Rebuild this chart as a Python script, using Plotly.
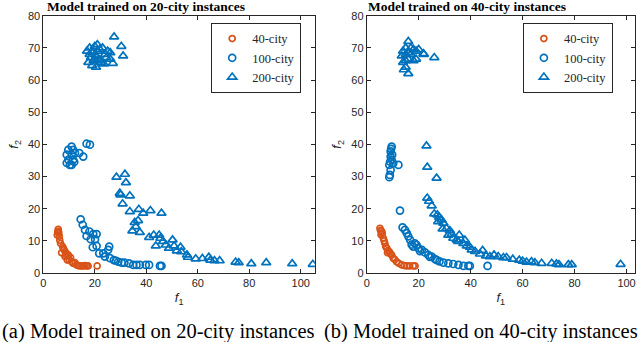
import plotly.graph_objects as go

# ---- data: model trained on 20-city instances (left) ----
a40_x = [5.8, 5.9, 5.4, 6.2, 6.0, 5.6, 6.7, 7.5, 8.0, 7.1, 8.8, 9.7, 8.4, 10.6, 9.3, 11.0,
         12.3, 12.9, 14.2, 15.5, 16.8, 17.4, 20.9, 7.8, 9.0, 10.0, 11.5, 13.5, 15.0, 16.2, 6.4, 8.5]
a40_y = [13.6, 13.0, 11.8, 11.4, 12.4, 12.8, 9.2, 8.2, 7.2, 6.3, 6.1, 5.6, 5.1, 4.8, 4.0, 3.5,
         3.2, 2.5, 2.2, 2.2, 2.2, 2.2, 2.2, 7.6, 5.4, 4.3, 3.0, 2.3, 2.2, 2.3, 10.2, 6.6]
a100_x = [11.0, 9.7, 11.6, 9.1, 11.0, 12.3, 9.7, 11.6, 9.1, 11.0, 14.0, 15.5, 16.8, 18.1, 10.3, 12.0,
          14.5, 15.3, 16.2, 17.9, 19.4, 20.7, 16.8, 18.4, 20.1, 19.2, 20.7, 21.7, 23.3, 25.6, 25.2,
          23.9, 25.9, 27.4, 29.1, 30.4, 33.3, 34.9, 36.2, 37.5, 39.8, 41.1, 45.3, 45.9, 31.5, 28.2]
a100_y = [39.3, 38.3, 38.3, 36.8, 36.8, 37.3, 35.2, 35.2, 34.2, 33.6, 37.3, 36.2, 40.2, 39.9, 33.6, 34.5,
          16.7, 15.0, 13.4, 12.9, 12.1, 12.1, 11.5, 10.5, 10.5, 8.0, 8.4, 6.1, 6.1, 8.2, 7.2,
          5.1, 4.6, 4.0, 3.5, 3.2, 3.0, 2.5, 2.5, 2.5, 2.5, 2.5, 2.2, 2.2, 3.2, 3.8]
a200_x = [17.0, 18.0, 19.0, 20.0, 21.0, 22.0, 23.0, 24.0, 25.0, 18.5, 19.5, 20.5, 21.5, 22.5, 24.5,
          17.5, 19.0, 20.5, 22.0, 23.5, 26.0, 18.0, 20.0, 21.0, 27.5, 30.3, 31.0, 27.0, 26.0,
          28.4, 31.7, 32.1, 29.7, 33.6, 30.8, 33.6, 37.1, 38.8, 41.6, 45.9, 35.5, 36.8, 35.9, 34.6,
          37.5, 41.1, 42.9, 45.0, 43.7, 45.5, 46.5, 47.6, 48.8, 50.2, 50.8, 51.9, 53.3, 53.6, 55.8,
          56.2, 59.2, 61.8, 64.3, 64.9, 66.5, 68.5, 74.7, 75.9, 80.8, 86.6, 96.7, 104.7, 30.0]
a200_y = [69.0, 70.0, 68.5, 70.5, 71.0, 69.5, 70.0, 68.0, 69.0, 67.0, 66.0, 67.5, 66.5, 65.5, 67.0,
          65.5, 64.5, 64.0, 66.0, 65.0, 68.5, 68.0, 66.5, 69.0, 73.4, 70.5, 67.5, 65.2, 66.5,
          29.8, 30.7, 28.1, 24.8, 24.0, 21.5, 19.1, 19.8, 18.6, 19.4, 18.6, 15.7, 16.3, 14.4, 13.1,
          12.6, 11.1, 11.8, 11.8, 8.4, 10.8, 9.8, 8.7, 7.7, 10.3, 8.4, 6.9, 8.0, 6.6, 5.6,
          4.9, 4.4, 4.5, 4.9, 4.0, 3.8, 3.8, 3.4, 3.2, 2.9, 3.2, 2.9, 2.7, 24.3]

# ---- data: model trained on 40-city instances (right) ----
b40_x = [5.1, 5.8, 5.5, 6.4, 7.0, 7.7, 8.7, 9.6, 10.2, 11.5, 13.5, 15.4, 17.9, 18.6, 5.3, 6.0,
         7.3, 8.2, 9.1, 10.8, 12.3, 14.5, 16.5, 6.7, 8.0]
b40_y = [13.9, 12.9, 11.9, 10.8, 9.2, 7.7, 6.6, 5.6, 4.6, 3.5, 2.5, 2.2, 2.2, 2.2, 13.2, 12.3,
         8.2, 7.0, 6.0, 4.2, 3.0, 2.3, 2.2, 10.0, 6.3]
b100_x = [9.6, 9.2, 9.2, 9.6, 8.7, 9.2, 8.9, 8.7, 12.2, 10.2, 9.4, 9.0, 9.8,
          12.8, 13.8, 14.7, 15.4, 16.0, 16.7, 17.3, 17.9, 19.2, 19.9, 21.2, 22.4, 23.7, 25.0,
          26.3, 28.0, 29.5, 31.4, 33.3, 35.3, 37.2, 39.1, 39.7, 46.5, 18.5, 20.5, 24.3, 27.0]
b100_y = [39.3, 37.8, 36.2, 35.2, 33.6, 32.0, 30.5, 29.8, 33.6, 34.1, 38.6, 34.6, 36.8,
          19.4, 14.2, 13.4, 12.4, 11.4, 10.3, 8.8, 8.2, 8.7, 7.7, 7.2, 6.4, 5.6, 5.1,
          4.3, 3.6, 3.2, 3.0, 2.8, 2.5, 2.2, 2.2, 2.2, 2.2, 9.2, 6.8, 5.0, 4.0]
b200_x = [16.0, 15.0, 17.0, 14.0, 16.0, 18.0, 19.0, 20.0, 22.0, 13.5, 15.0, 16.0, 18.0, 19.0, 14.0,
          15.0, 14.3, 16.0, 26.0, 17.0, 15.0, 21.8,
          23.0, 23.3, 26.9, 23.3, 24.0, 25.0, 26.0, 27.2, 27.9, 28.8, 27.5, 29.5, 29.2, 30.7, 32.0,
          31.4, 32.7, 33.3, 34.6, 35.6, 35.2, 37.2, 37.8, 38.5, 39.7, 40.4, 41.7, 43.6, 44.6, 45.9,
          47.4, 49.0, 50.6, 52.6, 53.8, 56.2, 58.7, 60.0, 61.5, 63.4, 64.7, 67.3, 71.2, 73.0, 74.0,
          77.6, 78.9, 97.7]
b200_y = [72.0, 70.0, 70.0, 69.0, 68.5, 69.5, 69.0, 69.5, 68.0, 67.5, 66.0, 66.5, 66.0, 66.5, 65.5,
          64.0, 63.2, 62.0, 67.0, 68.0, 68.0, 68.2,
          39.5, 32.9, 29.5, 23.3, 22.3, 20.9, 18.4, 18.1, 17.3, 16.5, 16.0, 15.5, 13.7, 13.9, 13.2,
          11.8, 12.1, 10.8, 10.3, 11.8, 9.8, 9.2, 10.2, 8.4, 8.0, 7.2, 6.7, 5.9, 7.0, 5.3,
          5.1, 5.6, 5.1, 4.8, 4.8, 4.3, 4.0, 3.7, 3.4, 3.5, 3.2, 3.0, 3.0, 2.8, 2.6,
          2.6, 2.6, 2.7]

orange = "#D95319"
blue = "#0072BD"
grey = "#262626"

fig = go.Figure()


def add_panel(x40, y40, x100, y100, x200, y200, xa, ya, leg):
    fig.add_trace(go.Scatter(x=x40, y=y40, mode="markers", name="40-city", xaxis=xa, yaxis=ya, legend=leg,
                             marker=dict(symbol="circle-open", size=6, color=orange, line=dict(width=1.7))))
    fig.add_trace(go.Scatter(x=x100, y=y100, mode="markers", name="100-city", xaxis=xa, yaxis=ya, legend=leg,
                             marker=dict(symbol="circle-open", size=7, color=blue, line=dict(width=1.7))))
    fig.add_trace(go.Scatter(x=x200, y=y200, mode="markers", name="200-city", xaxis=xa, yaxis=ya, legend=leg,
                             marker=dict(symbol="triangle-up-open", size=8, color=blue, line=dict(width=1.7))))


add_panel(a40_x, a40_y, a100_x, a100_y, a200_x, a200_y, "x", "y", "legend")
add_panel(b40_x, b40_y, b100_x, b100_y, b200_x, b200_y, "x2", "y2", "legend2")

axis_style = dict(showgrid=False, zeroline=False, showline=True, linecolor=grey, linewidth=1,
                  mirror="ticks", ticks="inside", ticklen=4, tickcolor=grey, automargin=False,
                  tickfont=dict(family="Liberation Sans, Arial", size=11, color=grey))
ftitle = dict(family="Liberation Sans, Arial", size=13, color=grey)
legfont = dict(family="Liberation Serif, Times New Roman", size=12.5, color=grey)

fig.update_layout(
    width=640, height=342,
    margin=dict(l=0, r=0, t=0, b=0),
    plot_bgcolor="white", paper_bgcolor="white",
    xaxis=dict(domain=[0.0677, 0.492], range=[0, 105.5], dtick=20, anchor="y",
               title=dict(text="<i>f</i><sub>1</sub>", font=ftitle, standoff=4), **axis_style),
    yaxis=dict(domain=[0.2018, 0.954], range=[0, 80], dtick=10, anchor="x",
               title=dict(text="<i>f</i><sub>2</sub>", font=ftitle, standoff=6), **axis_style),
    xaxis2=dict(domain=[0.573, 0.992], range=[0, 103.2], dtick=20, anchor="y2",
                title=dict(text="<i>f</i><sub>1</sub>", font=ftitle, standoff=4), **axis_style),
    yaxis2=dict(domain=[0.2018, 0.954], range=[0, 80], dtick=10, anchor="x2",
                title=dict(text="<i>f</i><sub>2</sub>", font=ftitle, standoff=6), **axis_style),
    legend=dict(x=0.330, y=0.933, xanchor="left", yanchor="top", bgcolor="white",
                bordercolor=grey, borderwidth=1, itemwidth=30, font=legfont),
    legend2=dict(x=0.817, y=0.933, xanchor="left", yanchor="top", bgcolor="white",
                 bordercolor=grey, borderwidth=1, itemwidth=30, font=legfont),
)

serif = "Liberation Serif, Times New Roman"
fig.add_annotation(text="<b>Model trained on 20-city instances</b>", x=45 / 640, y=1 - 6 / 342,
                   xref="paper", yref="paper", xanchor="left", yanchor="middle", showarrow=False,
                   font=dict(family=serif, size=13.5, color="black"))
fig.add_annotation(text="<b>Model trained on 40-city instances</b>", x=366 / 640, y=1 - 6 / 342,
                   xref="paper", yref="paper", xanchor="left", yanchor="middle", showarrow=False,
                   font=dict(family=serif, size=13.5, color="black"))
fig.add_annotation(text="(a) Model trained on 20-city instances", x=0, y=1 - 331 / 342,
                   xref="paper", yref="paper", xanchor="left", yanchor="middle", showarrow=False,
                   font=dict(family=serif, size=20.5, color="black"))
fig.add_annotation(text="(b) Model trained on 40-city instances", x=322 / 640, y=1 - 331 / 342,
                   xref="paper", yref="paper", xanchor="left", yanchor="middle", showarrow=False,
                   font=dict(family=serif, size=20.5, color="black"))

# page body has a default 8px margin; drop it so the figure fills the window
fig.write_html("out.html", config={"displayModeBar": False},
               post_script="document.body.style.margin='0';")
